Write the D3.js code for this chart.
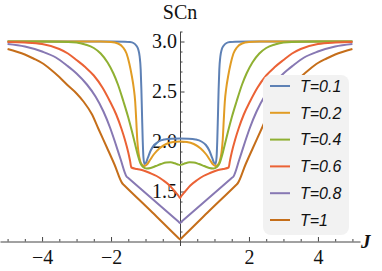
<!DOCTYPE html>
<html>
<head>
<meta charset="utf-8">
<script src="https://cdn.jsdelivr.net/npm/d3@7"></script>
<style>
  body { margin: 0; background: #fff; }
  svg { display: block; }
</style>
</head>
<body>
<div id="chart"></div>
<script>
// series labels and colours (Mathematica default palette)
var labels = ["T=0.1", "T=0.2", "T=0.4", "T=0.6", "T=0.8", "T=1"];
var colors = ["#5E81B5", "#E19C24", "#8FB032", "#EB6235", "#8778B3", "#C56E1A"];

// values, J and SCn for each curve
var jT01 = [-5, -2, -1.6, -1.45, -1.35, -1.27, -1.21, -1.17, -1.14, -1.12, -1.10, -1.08, -1.06, -1.03, -0.99, -0.93, -0.85, -0.75, -0.62, -0.45, -0.25, 0,
            0.25, 0.45, 0.62, 0.75, 0.85, 0.93, 0.99, 1.03, 1.06, 1.08, 1.10, 1.12, 1.14, 1.17, 1.21, 1.27, 1.35, 1.45, 1.6, 2, 5];
var sT01 = [3.0, 3.0, 2.998, 2.995, 2.985, 2.96, 2.92, 2.85, 2.72, 2.52, 2.25, 2.0, 1.84, 1.775, 1.785, 1.84, 1.91, 1.965, 2.0, 2.02, 2.028, 2.03,
            2.028, 2.02, 2.0, 1.965, 1.91, 1.84, 1.785, 1.775, 1.84, 2.0, 2.25, 2.52, 2.72, 2.85, 2.92, 2.96, 2.985, 2.995, 2.998, 3.0, 3.0];

var jT02 = [-5, -2.3, -2.0, -1.8, -1.65, -1.55, -1.47, -1.4, -1.34, -1.3, -1.27, -1.24, -1.2, -1.15, -1.09, -1.03, -0.96, -0.87, -0.75, -0.6, -0.4, -0.2, 0,
            0.2, 0.4, 0.6, 0.75, 0.87, 0.96, 1.03, 1.09, 1.15, 1.2, 1.24, 1.27, 1.3, 1.34, 1.4, 1.47, 1.55, 1.65, 1.8, 2.0, 2.3, 5];
var sT02 = [3.0, 3.0, 2.995, 2.98, 2.94, 2.88, 2.78, 2.66, 2.53, 2.4, 2.22, 2.02, 1.88, 1.8, 1.765, 1.755, 1.77, 1.815, 1.875, 1.93, 1.975, 1.995, 2.0,
            1.995, 1.975, 1.93, 1.875, 1.815, 1.77, 1.755, 1.765, 1.8, 1.88, 2.02, 2.22, 2.4, 2.53, 2.66, 2.78, 2.88, 2.94, 2.98, 2.995, 3.0, 3.0];

var jT04 = [-5, -3.5, -3.0, -2.75, -2.5, -2.3, -2.1, -1.93, -1.8, -1.64, -1.5, -1.4, -1.3, -1.22, -1.15, -1.07, -0.97, -0.85, -0.7, -0.55, -0.4, -0.28, -0.15, -0.06, 0,
            0.06, 0.15, 0.28, 0.4, 0.55, 0.7, 0.85, 0.97, 1.07, 1.15, 1.22, 1.3, 1.4, 1.5, 1.64, 1.8, 1.93, 2.1, 2.3, 2.5, 2.75, 3.0, 3.5, 5];
var sT04 = [3.0, 2.998, 2.99, 2.97, 2.935, 2.88, 2.79, 2.68, 2.57, 2.40, 2.24, 2.11, 1.97, 1.86, 1.785, 1.745, 1.73, 1.735, 1.755, 1.775, 1.79, 1.792, 1.782, 1.77, 1.765,
            1.77, 1.782, 1.792, 1.79, 1.775, 1.755, 1.735, 1.73, 1.745, 1.785, 1.86, 1.97, 2.11, 2.24, 2.40, 2.57, 2.68, 2.79, 2.88, 2.935, 2.97, 2.99, 2.998, 3.0];

var jT06 = [-5, -4.5, -4, -3.5, -3.25, -3, -2.75, -2.5, -2.25, -2.03, -1.85, -1.7, -1.6, -1.5, -1.45, -1.41, -1.25, -1.06, -0.87, -0.68, -0.5, -0.3, -0.15, -0.04, 0,
            0.04, 0.15, 0.3, 0.5, 0.68, 0.87, 1.06, 1.25, 1.41, 1.45, 1.5, 1.6, 1.7, 1.85, 2.03, 2.25, 2.5, 2.75, 3, 3.25, 3.5, 4, 4.5, 5];
var sT06 = [2.995, 2.99, 2.975, 2.925, 2.88, 2.815, 2.745, 2.66, 2.54, 2.40, 2.27, 2.13, 2.02, 1.89, 1.81, 1.74, 1.725, 1.71, 1.685, 1.655, 1.615, 1.56, 1.50, 1.455, 1.435,
            1.455, 1.50, 1.56, 1.615, 1.655, 1.685, 1.71, 1.725, 1.74, 1.81, 1.89, 2.02, 2.13, 2.27, 2.40, 2.54, 2.66, 2.745, 2.815, 2.88, 2.925, 2.975, 2.99, 2.995];

var jT08 = [-5, -4.5, -4, -3.6, -3.28, -3, -2.7, -2.45, -2.22, -2.03, -1.88, -1.72, -1.55, -1.5, -0.8, -0.04, 0,
            0.04, 0.8, 1.5, 1.55, 1.72, 1.88, 2.03, 2.22, 2.45, 2.7, 3, 3.28, 3.6, 4, 4.5, 5];
var sT08 = [2.975, 2.95, 2.90, 2.84, 2.76, 2.68, 2.57, 2.45, 2.30, 2.14, 1.99, 1.82, 1.65, 1.635, 1.425, 1.197, 1.185,
            1.197, 1.425, 1.635, 1.65, 1.82, 1.99, 2.14, 2.30, 2.45, 2.57, 2.68, 2.76, 2.84, 2.90, 2.95, 2.975];

var jT1 = [-5, -4.5, -4.25, -4, -3.75, -3.5, -3.25, -3, -2.8, -2.55, -2.37, -2.12, -1.9, -1.67, -1.62, -0.8, -0.04, 0,
           0.04, 0.8, 1.62, 1.67, 1.9, 2.12, 2.37, 2.55, 2.8, 3, 3.25, 3.5, 3.75, 4, 4.25, 4.5, 5];
var sT1 = [2.925, 2.87, 2.83, 2.785, 2.72, 2.645, 2.56, 2.48, 2.40, 2.27, 2.13, 1.94, 1.77, 1.58, 1.563, 1.29, 1.033, 1.02,
           1.033, 1.29, 1.563, 1.58, 1.77, 1.94, 2.13, 2.27, 2.40, 2.48, 2.56, 2.645, 2.72, 2.785, 2.83, 2.87, 2.925];

var jList = [jT01, jT02, jT04, jT06, jT08, jT1];
var sList = [sT01, sT02, sT04, sT06, sT08, sT1];

// ticks
var xMajor = [-4, -2, 2, 4];
var xMinor = [-5, -4.5, -3.5, -3, -2.5, -1.5, -1, -0.5, 0.5, 1, 1.5, 2.5, 3, 3.5, 4.5, 5];
var yMajor = [1.5, 2.0, 2.5, 3.0];
var yMinor = [1.1, 1.2, 1.3, 1.4, 1.6, 1.7, 1.8, 1.9, 2.1, 2.2, 2.3, 2.4, 2.6, 2.7, 2.8, 2.9, 3.1];

var width = 382, height = 271;
var serif = "'Liberation Serif', 'Times New Roman', serif";

var svg = d3.select("#chart").append("svg")
    .attr("width", width)
    .attr("height", height);

var x = d3.scaleLinear().domain([-5.22, 5.22]).range([0, 360]);
var y = d3.scaleLinear().domain([0.96, 3.1]).range([245.5, 31.5]);

var axisColor = "#444";

// x axis
var gx = svg.append("g").attr("transform", "translate(0," + y(1) + ")");
gx.call(d3.axisBottom(x).tickValues(xMajor).tickSizeInner(-4.5).tickSizeOuter(0).tickPadding(8));
gx.append("g").call(d3.axisBottom(x).tickValues(xMinor).tickSizeInner(-2.5).tickSizeOuter(0).tickFormat(""))
  .select(".domain").remove();

// y axis
var gy = svg.append("g").attr("transform", "translate(" + x(0) + ",0)");
gy.call(d3.axisLeft(y).tickValues(yMajor).tickFormat(d3.format(".1f")).tickSizeInner(-4.5).tickSizeOuter(0).tickPadding(3));
gy.append("g").call(d3.axisLeft(y).tickValues(yMinor).tickSizeInner(-2.5).tickSizeOuter(0).tickFormat(""))
  .select(".domain").remove();

svg.selectAll(".domain, .tick line").attr("stroke", axisColor);
svg.selectAll(".tick text")
    .attr("font-family", serif)
    .attr("font-size", 20)
    .attr("fill", "#111")
    .style("font-family", serif)
    .style("font-size", "20px");

// axis labels
svg.append("text")
    .attr("x", x(0))
    .attr("y", 19)
    .attr("text-anchor", "middle")
    .style("font-family", serif)
    .style("font-size", "20px")
    .style("fill", "#111")
    .text("SCn");

svg.append("text")
    .attr("x", 361)
    .attr("y", 248)
    .style("font-family", serif)
    .style("font-size", "19px")
    .style("font-style", "italic")
    .style("font-weight", "bold")
    .style("fill", "#111")
    .text("J");

// curves
var line = d3.line()
    .x(function(d) { return x(d[0]); })
    .y(function(d) { return y(d[1]); })
    .curve(d3.curveMonotoneX);

jList.forEach(function(js, i) {
  var pts = js.map(function(j, k) { return [j, sList[i][k]]; });
  svg.append("path")
      .datum(pts)
      .attr("d", line)
      .attr("fill", "none")
      .attr("stroke", colors[i])
      .attr("stroke-width", 2)
      .attr("stroke-linejoin", "round");
});

// legend
var lg = svg.append("g");
lg.append("rect")
    .attr("x", 263).attr("y", 75)
    .attr("width", 86).attr("height", 160)
    .attr("rx", 8)
    .attr("fill", "#f2f2f2");

labels.forEach(function(t, i) {
  var yy = 86 + i * 26.8;
  lg.append("line")
      .attr("x1", 270).attr("x2", 290)
      .attr("y1", yy).attr("y2", yy)
      .attr("stroke", colors[i])
      .attr("stroke-width", 2);
  lg.append("text")
      .attr("x", 300)
      .attr("y", yy)
      .attr("dy", "0.36em")
      .style("font-family", "'Liberation Sans', Arial, sans-serif")
      .style("font-size", "16px")
      .style("font-style", "italic")
      .style("fill", "#111")
      .text(t);
});
</script>
</body>
</html>
